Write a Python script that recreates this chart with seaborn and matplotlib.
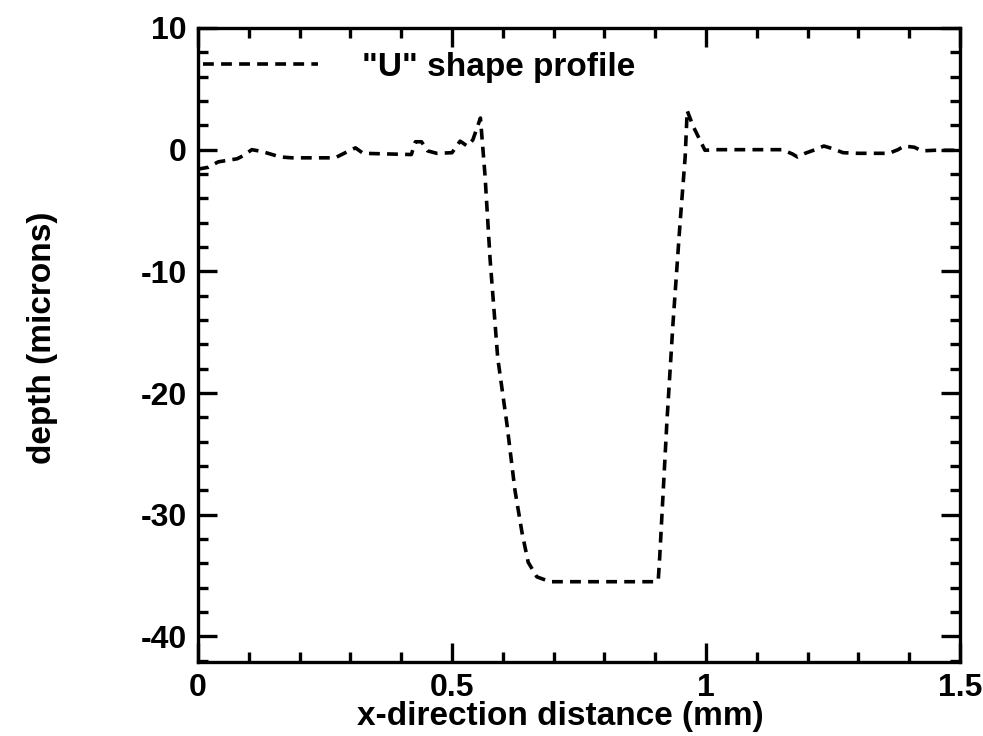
import matplotlib
matplotlib.use("Agg")
import matplotlib.pyplot as plt
import seaborn as sns
import numpy as np
import pandas as pd
from matplotlib.ticker import MultipleLocator, FixedLocator, FixedFormatter

# ---- data ----
x_mm = [0.000, 0.020, 0.040, 0.077, 0.089, 0.106, 0.126, 0.142, 0.162, 0.185,
        0.270, 0.290, 0.310, 0.325, 0.420, 0.428, 0.440, 0.452, 0.470, 0.500,
        0.516, 0.530, 0.541, 0.556, 0.565, 0.575, 0.590, 0.608, 0.624, 0.638,
        0.650, 0.667, 0.693, 0.900, 0.906, 0.909, 0.923, 0.935, 0.949, 0.959,
        0.963, 0.975, 0.998, 1.020, 1.150, 1.170, 1.180, 1.195, 1.215, 1.232,
        1.248, 1.270, 1.300, 1.360, 1.378, 1.390, 1.410, 1.425, 1.450, 1.500]
depth_um = [-1.6, -1.45, -1.0, -0.75, -0.5, 0.0, -0.15, -0.35, -0.6, -0.67,
            -0.67, -0.25, 0.15, -0.3, -0.4, 0.65, 0.65, -0.1, -0.3, -0.25,
            0.7, 0.3, 0.8, 2.6, -2.1, -9.0, -17.1, -22.5, -28.0, -31.5,
            -33.9, -35.1, -35.5, -35.5, -35.4, -33.4, -22.4, -14.3, -6.0, -0.6,
            3.2, 1.9, -0.05, 0.0, 0.0, -0.35, -0.6, -0.3, 0.0, 0.3,
            0.1, -0.25, -0.3, -0.3, 0.0, 0.3, 0.2, -0.1, -0.05, -0.05]
series_label = '"U" shape profile'
x_ticks = [0, 0.5, 1, 1.5]
x_tick_labels = ["0", "0.5", "1", "1.5"]
y_ticks = [-40, -30, -20, -10, 0, 10]
y_tick_labels = ["-40", "-30", "-20", "-10", "0", "10"]

df = pd.DataFrame({"x": x_mm, "depth": depth_um})

sns.set_style("ticks")
plt.rcParams["font.family"] = ["Liberation Sans", "DejaVu Sans"]
plt.rcParams["font.weight"] = "bold"
plt.rcParams["axes.unicode_minus"] = False
plt.rcParams["text.color"] = "black"
plt.rcParams["axes.labelcolor"] = "black"
plt.rcParams["xtick.color"] = "black"
plt.rcParams["ytick.color"] = "black"
plt.rcParams["axes.edgecolor"] = "black"

fig = plt.figure(figsize=(9.83, 7.36), dpi=100)
ax = fig.add_axes([0.2014, 0.1005, 0.9766 - 0.2014, 0.962 - 0.1005])

sns.lineplot(data=df, x="x", y="depth", ax=ax, color="black", linewidth=2.6,
             linestyle=(0, (3.0, 2.0)), estimator=None, label=series_label)

ax.set_xlim(0, 1.5)
ax.set_ylim(-42.1, 10)
ax.xaxis.set_major_locator(FixedLocator(x_ticks))
ax.xaxis.set_major_formatter(FixedFormatter(x_tick_labels))
ax.xaxis.set_minor_locator(MultipleLocator(0.1))
ax.yaxis.set_major_locator(FixedLocator(y_ticks))
ax.yaxis.set_major_formatter(FixedFormatter(y_tick_labels))
ax.yaxis.set_minor_locator(MultipleLocator(2))

for s in ax.spines.values():
    s.set_linewidth(2.4)
    s.set_color("black")
ax.tick_params(which="both", direction="in", top=True, right=True,
               color="black", labelcolor="black", width=2.4)
ax.tick_params(which="major", length=14, labelsize=23, pad=8)
ax.tick_params(which="minor", length=7)
for lab in ax.get_xticklabels() + ax.get_yticklabels():
    lab.set_fontweight("bold")

ax.set_xlabel("x-direction distance (mm)", fontsize=24, fontweight="bold", color="black")
ax.set_ylabel("depth (microns)", fontsize=24, fontweight="bold", color="black")
ax.xaxis.set_label_coords(0.475, -0.062)
ax.yaxis.set_label_coords(-0.184, 0.511)

leg = ax.legend(loc="center left", bbox_to_anchor=(0.0066, 0.938), frameon=False,
                fontsize=24, handlelength=3.45, handletextpad=1.32,
                borderpad=0, borderaxespad=0)
for t in leg.get_texts():
    t.set_fontweight("bold")
    t.set_color("black")

fig.savefig("out.png", dpi=100, facecolor="white")
